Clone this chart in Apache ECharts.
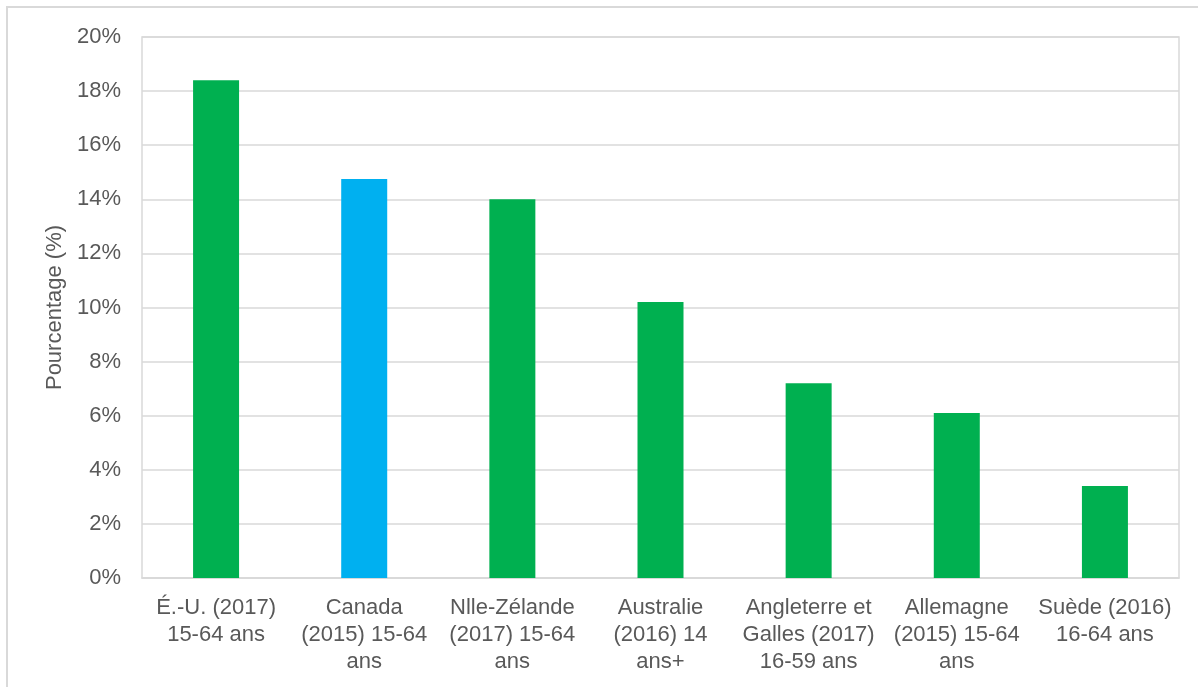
<!DOCTYPE html>
<html>
<head>
<meta charset="utf-8">
<script src="https://cdn.jsdelivr.net/npm/echarts@6/dist/echarts.min.js"></script>
<style>
html,body{margin:0;padding:0;background:#fff;}
#chart{width:1198px;height:687px;}
</style>
</head>
<body>
<div id="chart"></div>
<script>
const categories = [
  'É.-U. (2017)\n15-64 ans',
  'Canada\n(2015) 15-64\nans',
  'Nlle-Zélande\n(2017) 15-64\nans',
  'Australie\n(2016) 14\nans+',
  'Angleterre et\nGalles (2017)\n16-59 ans',
  'Allemagne\n(2015) 15-64\nans',
  'Suède (2016)\n16-64 ans'
];
const values = [18.4, 14.75, 14.0, 10.2, 7.2, 6.1, 3.4];
const barColors = ['#00B050', '#00B0F0', '#00B050', '#00B050', '#00B050', '#00B050', '#00B050'];
const yAxisName = 'Pourcentage (%)';

const chart = echarts.init(document.getElementById('chart'));
const font = 'Liberation Sans, Arial, sans-serif';
chart.setOption({
  animation: false,
  backgroundColor: '#fff',
  graphic: [{
    type: 'rect',
    shape: { x: 7, y: 7, width: 1300, height: 800 },
    style: { fill: 'none', stroke: '#d9d9d9', lineWidth: 2 },
    z: -1
  }],
  grid: {
    left: 142, right: 19, top: 37, bottom: 109,
    show: true, borderColor: '#d9d9d9', borderWidth: 1.5
  },
  xAxis: {
    type: 'category',
    data: categories,
    axisTick: { show: false },
    axisLine: { lineStyle: { color: '#d9d9d9', width: 1.5 } },
    axisLabel: {
      color: '#595959', fontFamily: font, fontSize: 22, lineHeight: 27,
      margin: 16, interval: 0
    }
  },
  yAxis: {
    type: 'value',
    min: 0, max: 20, interval: 2,
    name: yAxisName,
    nameLocation: 'middle',
    nameGap: 76,
    nameTextStyle: { color: '#595959', fontFamily: font, fontSize: 22 },
    axisLine: { show: false },
    axisTick: { show: false },
    axisLabel: {
      color: '#595959', fontFamily: font, fontSize: 22, margin: 21,
      padding: [3, 0, 0, 0],
      formatter: '{value}%'
    },
    splitLine: { lineStyle: { color: '#d9d9d9', width: 1.5 } }
  },
  series: [{
    type: 'bar',
    barWidth: 46,
    data: values.map((v, i) => ({ value: v, itemStyle: { color: barColors[i] } }))
  }]
});
</script>
</body>
</html>
